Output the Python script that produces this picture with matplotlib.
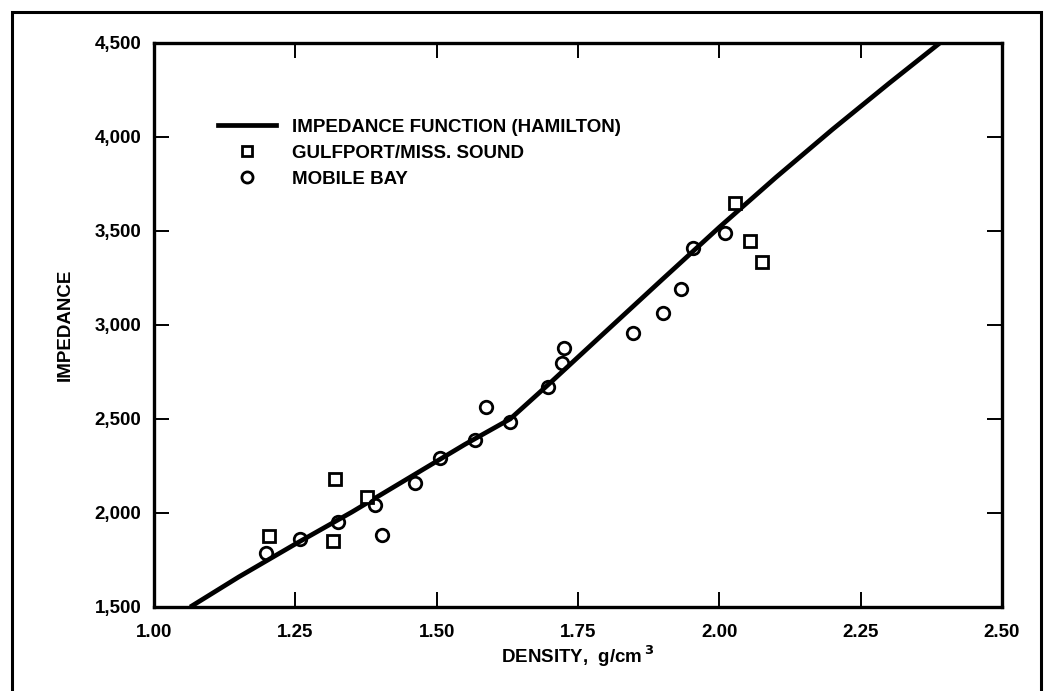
import matplotlib
matplotlib.use("Agg")
import matplotlib.pyplot as plt
from matplotlib.patches import Rectangle
from matplotlib.lines import Line2D
from matplotlib import font_manager

# ---- data ----
func_density = [1.064, 1.15, 1.25, 1.35, 1.45, 1.55, 1.63, 1.70, 1.79, 1.90, 2.00, 2.10, 2.20, 2.30, 2.39]
func_impedance = [1500, 1660, 1835, 2005, 2185, 2365, 2500, 2690, 2940, 3245, 3520, 3785, 4040, 4285, 4500]

gulf_density = [1.203, 1.317, 1.320, 1.376, 2.028, 2.054, 2.076]
gulf_impedance = [1880, 1850, 2180, 2087, 3651, 3447, 3335]

mobile_density = [1.198, 1.258, 1.326, 1.391, 1.404, 1.462, 1.506, 1.568, 1.587, 1.630,
                  1.697, 1.721, 1.725, 1.848, 1.901, 1.933, 1.954, 2.010]
mobile_impedance = [1785, 1862, 1954, 2043, 1883, 2158, 2295, 2390, 2566, 2486,
                    2670, 2798, 2878, 2956, 3066, 3190, 3408, 3490]

x_ticks = [1.00, 1.25, 1.50, 1.75, 2.00, 2.25, 2.50]
x_tick_labels = ["1.00", "1.25", "1.50", "1.75", "2.00", "2.25", "2.50"]
y_ticks = [1500, 2000, 2500, 3000, 3500, 4000, 4500]
y_tick_labels = ["1,500", "2,000", "2,500", "3,000", "3,500", "4,000", "4,500"]

legend_labels = ["IMPEDANCE FUNCTION (HAMILTON)", "GULFPORT/MISS. SOUND", "MOBILE BAY"]

# ---- fonts ----
available = {f.name for f in font_manager.fontManager.ttflist}
fam = [f for f in ["Liberation Sans", "DejaVu Sans"] if f in available]
plt.rcParams['font.family'] = fam
plt.rcParams['font.weight'] = 'bold'
FS = 13.5

fig = plt.figure(figsize=(10.5, 6.91), dpi=100)
fig.patch.set_facecolor("white")

# outer frame
fig.patches.append(Rectangle((12/1050, -0.05), (1041-12)/1050, 1.05 - 12/691,
                             transform=fig.transFigure, fill=False,
                             edgecolor="black", linewidth=2.2, zorder=0))

ax = fig.add_axes([154/1050, 1 - 607/691, (1002-154)/1050, (607-43)/691])
ax.set_xlim(1.0, 2.5)
ax.set_ylim(1500, 4500)

ax.plot(func_density, func_impedance, color="black", linewidth=3.4, solid_capstyle="butt", zorder=2)
ax.plot(gulf_density, gulf_impedance, linestyle="none", marker="s", markersize=8,
        markerfacecolor="white", markeredgecolor="black", markeredgewidth=2.0, zorder=3)
ax.plot(mobile_density, mobile_impedance, linestyle="none", marker="o", markersize=9,
        markerfacecolor="none", markeredgecolor="black", markeredgewidth=2.0, zorder=3)

for s in ax.spines.values():
    s.set_linewidth(2.4)

ax.set_xticks(x_ticks)
ax.set_xticklabels(x_tick_labels)
ax.set_yticks(y_ticks)
ax.set_yticklabels(y_tick_labels)
ax.tick_params(axis="both", direction="in", length=11, width=1.4, labelsize=FS,
               top=True, right=True)
ax.tick_params(axis="x", pad=12)
ax.tick_params(axis="y", pad=9)

ax.set_xlabel("DENSITY,  g/cm$^{\\,3}$", fontsize=FS, fontweight="bold", labelpad=2)
ax.set_ylabel("IMPEDANCE", fontsize=FS, fontweight="bold", labelpad=15)

handles = [
    Line2D([], [], color="black", linewidth=3.4),
    Line2D([], [], linestyle="none", marker="s", markersize=7, markerfacecolor="white",
           markeredgecolor="black", markeredgewidth=2.0),
    Line2D([], [], linestyle="none", marker="o", markersize=8, markerfacecolor="none",
           markeredgecolor="black", markeredgewidth=2.0),
]
leg = ax.legend(handles, legend_labels, loc="upper left", bbox_to_anchor=(0.0755, 0.866),
                frameon=False, fontsize=FS, handlelength=3.1, handletextpad=0.85,
                labelspacing=0.47, borderaxespad=0, borderpad=0)

fig.savefig("out.png", dpi=100, facecolor="white")
